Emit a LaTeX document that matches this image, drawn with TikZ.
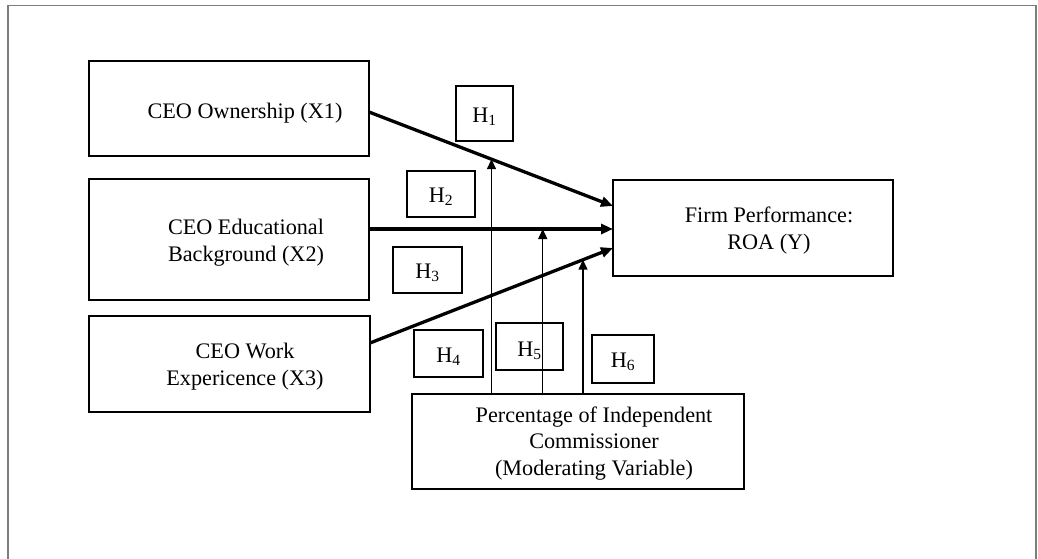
\documentclass[tikz,border=0pt]{standalone}
\usepackage{fontspec}
\setmainfont{Liberation Serif}
\usetikzlibrary{arrows.meta,calc}
\definecolor{framegray}{RGB}{125,125,125}
\begin{document}
\begin{tikzpicture}[x=1pt,y=-1pt,
  box/.style={draw,line width=2.6pt,inner sep=0pt,outer sep=0pt},
  hbox/.style={draw,line width=2.6pt,inner sep=0pt,outer sep=0pt,text height=17pt,text depth=0pt},
  txt/.style={inner sep=0pt,align=center},
  thick arrow/.style={line width=3.3pt,-{Triangle[length=12pt,width=10pt]}},
  thin arrow/.style={line width=1.5pt,-{Triangle[length=10pt,width=9pt]}}]
\fontsize{22.2}{26.6}\selectfont
\useasboundingbox (0,0) rectangle (1038,559);
\draw[framegray,line width=1.8pt] (8,559) -- (8,5.5) -- (1036,5.5) -- (1036,559);
% main boxes
\node[box,minimum width=280pt,minimum height=95pt] (x1) at (229,108.5) {};
\node[box,minimum width=280pt,minimum height=121pt] (x2) at (229,239.5) {};
\node[box,minimum width=281pt,minimum height=96pt] (x3) at (229.5,364) {};
\node[box,minimum width=280pt,minimum height=96pt] (firm) at (753,228) {};
\node[box,minimum width=332pt,minimum height=95pt] (mod) at (578,441.5) {};
% texts
\node[txt,anchor=base] (x1t) at (245,118) {CEO Ownership (X1)};
\node[txt] (x2t) at (246,242.5) {CEO Educational\\Background (X2)};
\node[txt] (x3t) at (245,366.5) {CEO Work\\Expericence (X3)};
\node[txt] (firmt) at (769,230.5) {Firm Performance:\\ROA (Y)};
\node[txt] (modt) at (594,443.5) {Percentage of Independent\\Commissioner\\(Moderating Variable)};
% hypothesis boxes
\node[hbox,minimum width=57pt,minimum height=55pt] (h1) at (484.5,113.5) {H\textsubscript{1}};
\node[hbox,minimum width=68pt,minimum height=46pt] (h2) at (441,194) {H\textsubscript{2}};
\node[hbox,minimum width=69pt,minimum height=46pt] (h3) at (427.5,270) {H\textsubscript{3}};
\node[hbox,minimum width=69pt,minimum height=47pt] (h4) at (448.5,353.5) {H\textsubscript{4}};
\node[hbox,minimum width=67pt,minimum height=47pt,text height=19pt] (h5) at (529.5,346.5) {H\textsubscript{5}};
\node[hbox,minimum width=62pt,minimum height=48pt] (h6) at (623,359) {H\textsubscript{6}};
% connector end points
\coordinate (s1) at ([yshift=-3.5pt]x1.east);
\coordinate (e1) at ([yshift=22pt]firm.west);
\coordinate (s2) at ([yshift=10.5pt]x2.east);
\coordinate (e2) at ([yshift=-1pt]firm.west);
\coordinate (s3) at ([yshift=21pt]x3.east);
\coordinate (e3) at ([yshift=-20pt]firm.west);
\draw[thick arrow] (s1) -- (e1);
\draw[thick arrow] (s2) -- (e2);
\draw[thick arrow] (s3) -- (e3);
\coordinate (m1) at ($(s1)!0.502!(e1)$);
\coordinate (m2) at ($(s2)!0.712!(e2)$);
\coordinate (m3) at ($(s3)!0.8765!(e3)$);
\draw[thin arrow] (m1 |- mod.north) -- (m1);
\draw[thin arrow] (m2 |- mod.north) -- (m2);
\draw[thin arrow] (m3 |- mod.north) -- (m3);
\end{tikzpicture}
\end{document}
